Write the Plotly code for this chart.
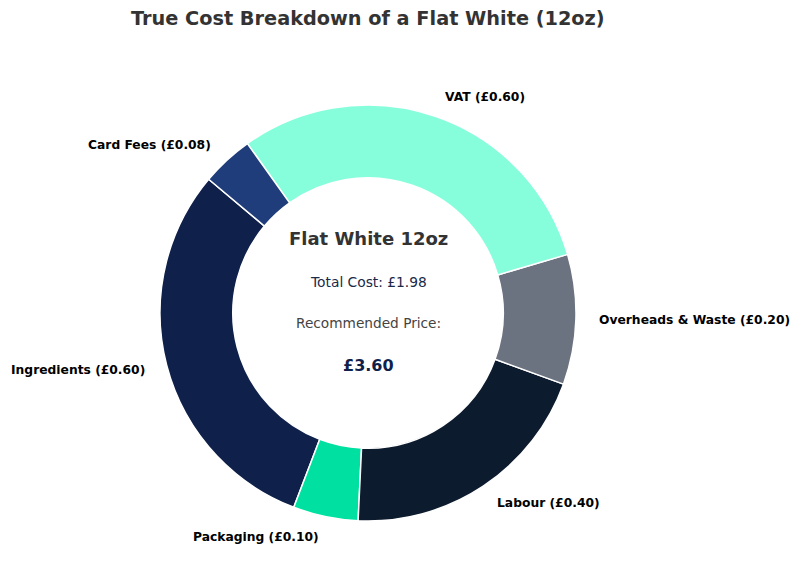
import numpy as np
import plotly.graph_objects as go

categories = ["Ingredients", "Packaging", "Labour", "Overheads & Waste", "VAT", "Card Fees"]
costs = [0.60, 0.10, 0.40, 0.20, 0.60, 0.08]
colors = ["#0f214a", "#00e0a0", "#0d1b2e", "#6b7280", "#86fedb", "#1e3d7a"]
title_text = "True Cost Breakdown of a Flat White (12oz)"
product = "Flat White 12oz"
rec_price = 3.60

W, H = 800, 585
OFF = 8  # page body margin
cx, cy, R = 368 - OFF, 313 - OFF, 208
start_deg = 140


def px2x(p):
    return p / W


def py2y(p):
    return 1 - p / H


total = sum(costs)
# plotly (counterclockwise): first slice ends at the rotation angle (clockwise from 12 o'clock)
first_end = start_deg + 360 * costs[0] / total
rotation = 90 - first_end

fig = go.Figure()
fig.add_trace(go.Pie(
    labels=categories, values=costs, sort=False, direction="counterclockwise",
    rotation=rotation, hole=0.65,
    marker=dict(colors=colors, line=dict(color="white", width=1.5)),
    textinfo="none", hoverinfo="label+value", showlegend=False,
    domain=dict(x=[px2x(cx - R), px2x(cx + R)], y=[py2y(cy + R), py2y(cy - R)]),
))

annotations = []
cum = 0.0
for name, v in zip(categories, costs):
    mid = np.deg2rad(start_deg + 360 * (cum + v / 2) / total)
    cum += v
    lx = cx + 1.1 * R * np.cos(mid)
    ly = cy - 1.1 * R * np.sin(mid)
    annotations.append(dict(
        x=px2x(lx), y=py2y(ly), xref="paper", yref="paper",
        text=f"<b>{name} (£{v:.2f})</b>", showarrow=False,
        xanchor="left" if np.cos(mid) > 0 else "right", yanchor="middle",
        font=dict(family="DejaVu Sans", size=12.3, color="black"),
    ))

center = [
    (product, 239, 18, "#333333", True),
    (f"Total Cost: £{total:.2f}", 282, 13.8, "#1a2a4a", False),
    ("Recommended Price:", 323, 13.7, "#444444", False),
    (f"£{rec_price:.2f}", 365, 16, "#0f214a", True),
]
for t, py, s, c, b in center:
    annotations.append(dict(
        x=px2x(cx), y=py2y(py - OFF), xref="paper", yref="paper",
        text=f"<b>{t}</b>" if b else t, showarrow=False,
        xanchor="center", yanchor="middle",
        font=dict(family="DejaVu Sans", size=s, color=c),
    ))

annotations.append(dict(
    x=px2x(cx), y=py2y(18 - OFF), xref="paper", yref="paper",
    text=f"<b>{title_text}</b>", showarrow=False, xanchor="center", yanchor="middle",
    font=dict(family="DejaVu Sans", size=19.3, color="#333333"),
))

fig.update_layout(
    width=W, height=H, margin=dict(l=0, r=0, t=0, b=0),
    paper_bgcolor="white", plot_bgcolor="white",
    annotations=annotations,
)
fig.write_html("out.html")
